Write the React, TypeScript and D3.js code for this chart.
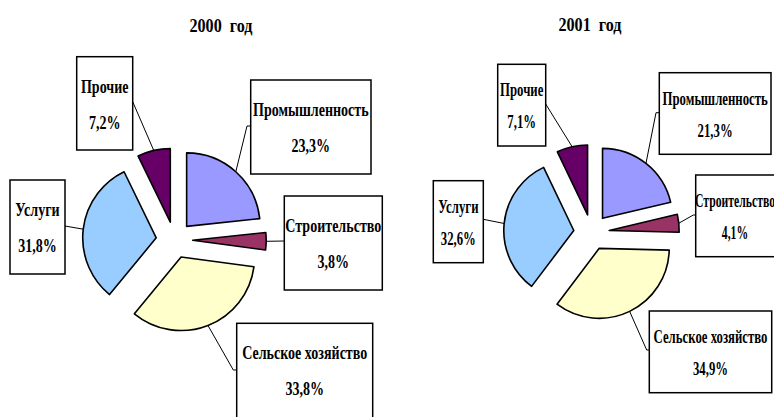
import React from 'react';
import * as d3 from 'd3';

const categories = ['Промышленность', 'Строительство', 'Сельское хозяйство', 'Услуги', 'Прочие'];
const values2000 = [23.3, 3.8, 33.8, 31.8, 7.2];
const values2001 = [21.3, 4.1, 34.9, 32.6, 7.1];
const titles = ['2000  год', '2001  год'];
const colors = ['#9999ff', '#993366', '#ffffcc', '#99ccff', '#660066'];

const W = 774;
const H = 417;
const FONT = '"Liberation Serif", "DejaVu Serif", serif';

// placement of each pie and its callout boxes (box order follows categories)
const layouts = [
  {
    values: values2000,
    cx: 174.4, cy: 240, r: 73.5, explode: 18.3,
    titleX: 221, titleY: 32,
    fontSize: 18, sx: 0.78, line1: 36, line2: 72,
    boxes: [
      { x: 250.7, y: 80, w: 120.3, h: 94, elbow: [247, 126], end: [250.7, 126] },
      { x: 284.3, y: 196, w: 98, h: 94, elbow: [284.3, 241], end: [284.3, 241] },
      { x: 236.7, y: 323.3, w: 136, h: 110, elbow: [233.3, 370], end: [236.7, 370] },
      { x: 10, y: 180, w: 55, h: 94, elbow: [65, 226], end: [65, 226] },
      { x: 76.7, y: 56.7, w: 56, h: 93.3, elbow: [132.7, 101.7], end: [132.7, 101.7] },
    ],
  },
  {
    values: values2001,
    cx: 591.5, cy: 232.3, r: 70, explode: 17.8,
    titleX: 590, titleY: 31,
    fontSize: 18, sx: 0.71, line1: 32, line2: 64,
    boxes: [
      { x: 659.3, y: 72.7, w: 111.7, h: 81.6, elbow: [656, 112.7], end: [659.3, 112.7] },
      // this box runs past the right edge, as in the source; its text is squeezed to stay inside
      { x: 695.7, y: 175, w: 82, h: 81.7, elbow: [693.3, 215], end: [695.7, 215], textX: 735, textSx: 0.65 },
      { x: 649.3, y: 311, w: 122.4, h: 81.7, elbow: [646.7, 350], end: [649.3, 350] },
      { x: 433.3, y: 180.7, w: 50, h: 82, elbow: [483.3, 219.3], end: [483.3, 219.3] },
      { x: 497.7, y: 64.3, w: 48, h: 81.7, elbow: [545.7, 104], end: [545.7, 104] },
    ],
  },
];

const fmt = (v: number) => d3.format('.1f')(v).replace('.', ',') + '%';

function Pie({ layout, title }: { layout: any; title: string }) {
  const { values, cx, cy, r, explode, boxes } = layout;
  const pie = d3.pie<number>().sort(null).value(d => d);
  const arcs = pie(values);
  const arc = d3.arc<d3.PieArcDatum<number>>().innerRadius(0).outerRadius(r);

  return (
    <g>
      <text
        transform={`translate(${layout.titleX},${layout.titleY}) scale(0.85,1)`}
        textAnchor="middle"
        fontFamily={FONT}
        fontWeight="bold"
        fontSize={19}
        style={{ whiteSpace: 'pre' }}
      >
        {title}
      </text>
      {arcs.map((a, i) => {
        const mid = (a.startAngle + a.endAngle) / 2;
        const dx = explode * Math.sin(mid);
        const dy = -explode * Math.cos(mid);
        return (
          <path
            key={'s' + i}
            d={arc(a) || ''}
            transform={`translate(${cx + dx},${cy + dy})`}
            fill={colors[i]}
            stroke="#000"
            strokeWidth={1.6}
            strokeLinejoin="round"
          />
        );
      })}
      {arcs.map((a, i) => {
        const b = boxes[i];
        const mid = (a.startAngle + a.endAngle) / 2;
        const ax = cx + (r + explode) * Math.sin(mid);
        const ay = cy - (r + explode) * Math.cos(mid);
        const tx = b.textX ?? b.x + b.w / 2;
        const sx = b.textSx ?? layout.sx;
        return (
          <g key={'l' + i}>
            <polyline
              points={`${ax},${ay} ${b.elbow[0]},${b.elbow[1]} ${b.end[0]},${b.end[1]}`}
              fill="none"
              stroke="#000"
              strokeWidth={1}
            />
            <rect x={b.x} y={b.y} width={b.w} height={b.h} fill="#fff" stroke="#000" strokeWidth={1.5} />
            <text
              transform={`translate(${tx},${b.y + layout.line1}) scale(${sx},1)`}
              textAnchor="middle"
              fontFamily={FONT}
              fontWeight="bold"
              fontSize={layout.fontSize}
            >
              {categories[i]}
            </text>
            <text
              transform={`translate(${tx},${b.y + layout.line2}) scale(${sx},1)`}
              textAnchor="middle"
              fontFamily={FONT}
              fontWeight="bold"
              fontSize={layout.fontSize}
            >
              {fmt(values[i])}
            </text>
          </g>
        );
      })}
    </g>
  );
}

export default function App() {
  return (
    <svg
      width={W}
      height={H}
      style={{ position: 'fixed', left: 0, top: 0, background: '#fff', display: 'block' }}
    >
      <rect width={W} height={H} fill="#fff" />
      {layouts.map((l, i) => (
        <Pie key={i} layout={l} title={titles[i]} />
      ))}
    </svg>
  );
}
